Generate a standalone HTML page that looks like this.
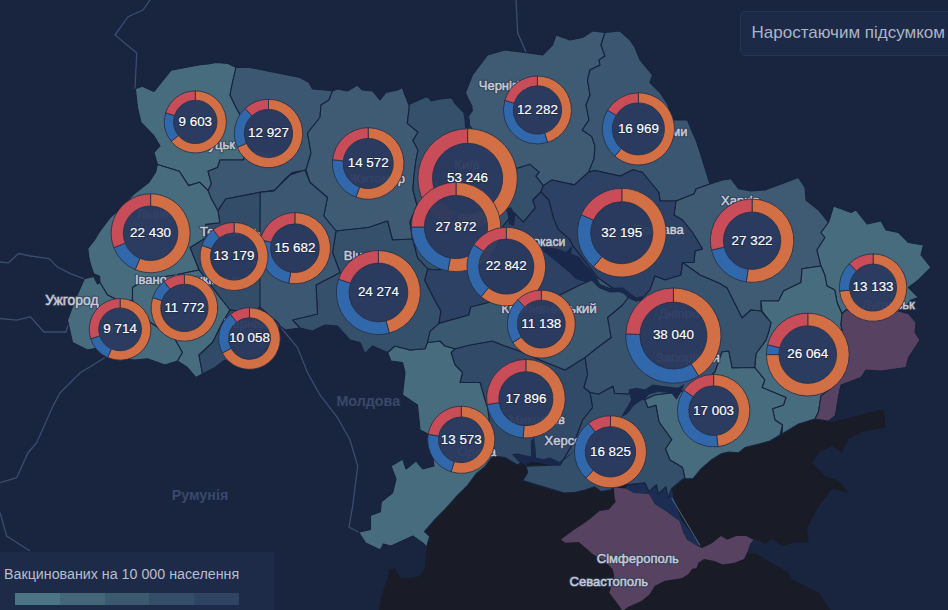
<!DOCTYPE html><html><head><meta charset="utf-8"><style>
html,body{margin:0;padding:0;background:#19253f;}body{width:948px;height:610px;overflow:hidden;position:relative;font-family:"Liberation Sans",sans-serif;}
svg{position:absolute;left:0;top:0;}
.vh{font-size:13.4px;fill:#243050;text-anchor:middle;stroke:#243050;stroke-width:2.6px;stroke-linejoin:round;opacity:.75}  .v{font-size:13.4px;fill:#fff;text-anchor:middle;stroke:#fff;stroke-width:.15px;}
.ch{font-size:13px;fill:#2a3651;stroke:#2a3651;stroke-width:2.4px;stroke-linejoin:round;opacity:.8}.c{font-size:13px;fill:#c6cad6;stroke:#c6cad6;stroke-width:.5px;}
.k{font-size:14.3px;font-weight:bold;fill:#3a4869;}
#btn{position:absolute;left:739.5px;top:11px;width:230px;height:45px;box-sizing:border-box;border:1px solid #27334f;border-radius:5px;background:#1c2947;color:#adb4c6;font-size:17px;line-height:42.5px;padding-left:11px;white-space:nowrap;}
#leg{position:absolute;left:0;top:552px;width:274px;height:58px;background:#1d2b49;}
#leg .t{position:absolute;left:4px;top:13.5px;font-size:14.25px;color:#b8becd;white-space:nowrap;}
#leg .b{position:absolute;left:15px;top:41px;height:12px;width:224px;display:flex;}#leg .b i{flex:1;display:block;}
</style></head><body>
<svg width="948" height="610" viewBox="0 0 948 610">
<rect width="948" height="610" fill="#19253f"/>
<polyline points="150,0 143,10 128,16.7 115,35 136.7,53 135,89" fill="none" stroke="#3b4c70" stroke-width="1.3"/>
<polyline points="0,262 8.4,262.8 18.6,253.5 30.4,256 49,258.6 57.4,267 70.9,273.8 84.4,278.8" fill="none" stroke="#3b4c70" stroke-width="1.3"/>
<polyline points="0,318.5 16.9,320.2 30.4,316.8 43.9,332 66,332 68,325" fill="none" stroke="#3b4c70" stroke-width="1.3"/>
<polyline points="105,357.5 80,373 60,393 53,406 36.7,442.7 28,452.7 16.7,477.7 0,482.7" fill="none" stroke="#3b4c70" stroke-width="1.3"/>
<polyline points="0,512.7 6.7,536 30,551" fill="none" stroke="#3b4c70" stroke-width="1.3"/>
<polyline points="280,326 285,332.5 297.5,347.5 307.5,372.5 320,395 337.5,417.5 350,440 357.7,466 352.7,506 349,527 358.7,532.3" fill="none" stroke="#3b4c70" stroke-width="1.3"/>
<polyline points="516,0 517.7,33 526,52" fill="none" stroke="#3b4c70" stroke-width="1.3"/>
<polygon points="493.8,454.8 485,466.6 476,474 467.2,485.8 456.9,496 445,509.4 434.8,519.7 424.5,531.5 429.6,536.3 426.6,547 424.6,568.7 418.7,576.6 401,578.6 395,568.7 389.2,568.7 387.2,580.5 382.3,592.4 378.4,612 832,612 818.7,592.7 792,579 788.7,572.7 770,562 755,552.7 748.7,554 747,546 755,539 765,544 772,539 782,546 795,542.7 808.7,542.7 807,529 812,519 818.7,506 832,489 848.7,492.7 838.7,481 825,476 812,462.7 818.7,452.7 832,446 842,452.7 848.7,439 865,431 885.8,427.8 884.6,418.6 883.5,409.4 876.6,410.5 846.7,418.6 830.7,422 815,419 798.7,424 782,434 700,420 600,440 520,440" fill="#191c27"/>
<polygon points="626,486 645,482.8 649,491.4 656.5,484.7 658.4,494 666,486.6 668,498 671.7,488.5 673.6,498 681,519 700,545.5 696.5,545.5 687,539.8 683,532 679.4,520.8 673.6,517 666,511 660,507.5 654.6,503.7 649,494 633.7,493 626,488.5" fill="#1b2d52"/>
<g stroke="#17233e" stroke-width="1.1" stroke-linejoin="round">
<polygon points="135.4,88.8 142.2,86.3 154,91.4 170.9,70.3 200,64.8 208,64 216,62.5 228,63.5 236,67.5 232.5,82.5 230,95 236,107.5 242,118 246,140 243.75,160 232.5,160 220,160 217.5,167.5 208,171.2 211.4,183.9 208,190.6 199.6,182.2 188.6,185.6 179.3,171.2 157.4,164.5 154,152.5 160,146 154,136 141,122.5 137.5,107.5" fill="#476c7d"/>
<polygon points="236,67.5 250,67.5 275,72.5 300,77.5 309,82.5 312.5,89 325,90 332.5,91 329,100 321,105 320,117.5 307.5,133 311,153 306,170 292.5,172.5 284,180 275,190 260,192.3 225.7,199 218,210.9 211.4,199 208,190.6 211.4,183.9 208,171.2 217.5,167.5 220,160 243.75,160 246,140 242,118 236,107.5 230,95 232.5,82.5" fill="#3b5771"/>
<polygon points="332.5,91 337.5,89 347.5,91 357.5,85 362.5,90 372.5,91 380,100 386,92.5 397.5,90 402.5,87.5 409.4,106 407.3,123.4 418,132 413,140.4 418,150 416,160 413.75,177.5 413,190 417,205 410,222 412.5,239 392.5,240 387.5,221 368.75,227.5 336,231 323.75,216 327.5,197.5 310,182.5 306,170 311,153 307.5,133 320,117.5 321,105 329,100" fill="#3e5b73"/>
<polygon points="402.5,87.5 409.4,106 407.3,123.4 418,132 413,140.4 418,150 416,160 413.75,177.5 413,190 417,205 410,222 412.5,239 417.5,257.8 427.8,269 437.5,270 460,265 480,250 500,230 513.8,212.7 523.4,222.2 535.3,207.9 532.9,200 540.9,192 543.3,185.6 536.1,176.1 539.3,172.1 529.7,164.2 517,168.2 500,160 480,140 469.6,125.5 468.5,116 463,111.6 454.7,103 451.5,97.8 440,99 431,101 429,98 426,96.7 410,104 405,95" fill="#35506b"/>
<polygon points="468.5,116 472.3,110.6 471.8,106 467.5,97.8 465.4,92.5 467.5,87.5 472.5,75 480,65 487.5,55 505,50 525,52.5 542.5,55 552.5,45 556,35 570,40 582.5,37.5 592.5,31 605,32.5 601,45 605,56 599,60 600,65 590,70 587.5,80 590,95 586,105 589,120 582.2,130 591.7,136.4 594.9,145.9 594.1,158.6 588.6,172.1 574.3,184.9 560,181.7 552,180 543.3,185.6 536.1,176.1 539.3,172.1 529.7,164.2 517,168.2 500,160 480,140 469.6,125.5" fill="#3e5b73"/>
<polygon points="605,32.5 620,31 630,40 635,47.5 640,60 652.5,75 650,82.5 660,92.5 668,105 672.5,120 687.5,120 692.5,132.5 696,140 701,155 704,165 710,184 696,189 694,194 676,201 660,201 659,192.5 642.5,172.5 633.1,169.7 620.4,176.1 594.9,170.5 588.6,172.1 594.1,158.6 594.9,145.9 591.7,136.4 582.2,130 589,120 586,105 590,95 587.5,80 590,70 600,65 599,60 605,56 601,45" fill="#3a5670"/>
<polygon points="710,184 722.5,180 731,178.75 738.5,188.75 751,191 765,190 798.5,177.5 805,187.5 806,200 818.5,210 828.5,222.5 821,232.5 825,237.5 817,250 821,266 802,268.75 801,282.5 783.5,291 778.5,301 761,301 761,311 751,310 742,318 727,288 718.7,283 700,275 682.5,262.5 694,262.5 695,251 702.5,249 692.5,232.5 682.5,220 674,215 676,201 694,194 696,189" fill="#3e5b73"/>
<polygon points="543.3,185.6 552,180 560,181.7 574.3,184.9 588.6,172.1 594.9,170.5 620.4,176.1 633.1,169.7 642.5,172.5 659,192.5 660,201 676,201 674,215 682.5,220 692.5,232.5 702.5,249 695,251 694,262.5 682.5,262.5 681,275 665,280 655,276 650,290 640,301 630,295 615,290 597.5,277.5 572.7,245.6 569.5,239.3 558.4,229.7 553.6,218.6 548.8,200 540.9,192" fill="#2c4163"/>
<polygon points="828.5,222.5 833.5,206 851,212.5 856,210 867,224 881,221 886,230 898.5,232.5 908.5,242.5 923.5,245 921,255 931,267.5 918.5,280 908.5,287.5 918.5,297.5 911,300 903.5,309 898.5,311 846,310 842,313.75 837,302.5 834.75,290 827,286 824.75,275 821,266 817,250 825,237.5 821,232.5" fill="#476c7d"/>
<polygon points="821,266 824.75,275 827,286 834.75,290 837,302.5 842,313.75 841,325 845,345 842,370 835,385 821,396 818.5,412 815,419 798.7,424 782,434 782.5,425 775,420 772.5,408.75 783.5,405 786,397.5 762,387.5 764.75,380 754.75,367.5 756,353.75 766,340 768.5,332.5 771,322.5 762,311 761,301 778.5,301 783.5,291 801,282.5 802,268.75" fill="#476c7d"/>
<polygon points="842,313.75 846,310 898.5,311 908.5,313.75 916,322.5 915,332.5 920,340 908.5,357.5 906,367.5 881,371 866,370 861,377.5 841,385 838.5,396 836,412 835,416 828.7,421 815,419 818.5,412 821,396 835,385 842,370 845,345 841,325" fill="#574361"/>
<polygon points="682.5,262.5 700,275 718.7,283 727,288 742,318 751,310 761,311 771,322.5 768.5,332.5 766,340 756,353.75 754.75,367.5 732,368 728.7,351 722,352 715,372 700,385 680,392 655,395 644.7,399.7 630,390 628.8,394.2 614.5,393.4 613,386.2 598.6,394.2 590,392.5 583.75,387.5 587.5,375 585,357.5 597.5,347.5 611,337.5 607.5,317.5 622.5,305 630,295 640,301 650,290 655,276 665,280 681,275" fill="#37536d"/>
<polygon points="644.7,399.7 655,395 680,392 700,385 715,372 722,352 728.7,351 732,368 754.75,367.5 764.75,380 762,387.5 786,397.5 783.5,405 772.5,408.75 775,420 782.5,425 780,435 770,441 760,443.8 745,447.6 738.7,452.7 728.6,452 721,453.9 710.9,460.3 700.8,469.1 693.2,478.6 685,478.75 682.5,467.5 670,460 665.4,449 671.7,439.5 659,422 655.9,405.3 648,407.7 644.7,399.7" fill="#476c7d"/>
<polygon points="590,392.5 598.6,394.2 613,386.2 614.5,393.4 628.8,394.2 630,390 644.7,399.7 648,407.7 655.9,405.3 659,422 671.7,439.5 665.4,449 670,460 682.5,467.5 685,478.75 683,479 671.7,488.5 668,498 666,486.6 658.4,494 656.5,484.7 649,491.4 645,482.8 626,484.7 613.8,487.6 610.4,490 600.8,491.5 594.5,486.8 585,490 575.4,492.3 564.3,493 548.4,488.4 532.5,483.6 523,480.4 527.7,472.5 526.1,466.1 560,465 575,440 582.5,420 592.5,407.5" fill="#344f6a"/>
<polygon points="455,348.75 470,345 492.5,341 505,346 517,350 540,360 565,370 585,357.5 587.5,375 583.75,387.5 590,392.5 592.5,407.5 582.5,420 575,440 560,465 527.5,457.5 517.5,465 505,457.5 493.75,456 487.5,407.5 485,400 480,382.5 460,382.5 462.5,372.5 455,365 451,352.5" fill="#314a68"/>
<polygon points="387.5,352.5 395,346 410,350 425,348.75 427.5,342.5 440,341 445,346 455,348.75 451,352.5 455,365 462.5,372.5 460,382.5 480,382.5 485,400 487.5,407.5 493.8,454.8 485,466.6 476,474 467.2,485.8 456.9,496 445,509.4 434.8,519.7 424.5,531.5 429.6,536.3 426.6,547 422.7,543 412.8,536 391,546 383.3,544 380.4,550 365.6,543 358.7,532.3 370.5,529.4 370.5,515.6 380.4,511.7 381.3,501.8 392.7,492.7 396,479 391,466 402.7,459 406,469 416,461 422.7,469 434,466 430,435 420,430 417.5,405 402.5,395 405,372.5 402.5,362.5 391,361" fill="#476c7d"/>
<polygon points="336,231 368.75,227.5 387.5,221 392.5,240 412.5,239 417.5,257.8 427.8,269 424.7,280.3 435,300.8 441,311 439,323.4 430,331.6 427.5,342.5 425,348.75 410,350 395,346 387.5,352.5 372.5,346 365,353.75 360,342.5 350,340 337.5,326 325,325 312.5,331 300,328 292.5,320 317.5,314 316,285 340,272.5 332.5,252.5" fill="#35506b"/>
<polygon points="260,192.3 273.75,191 290,175 305,170 310,182.5 327.5,197.5 323.75,216 336,231 332.5,252.5 340,272.5 316,285 317.5,314 292.5,320 300,328 285,330 280,326 277.5,322.5 260,307.5 259,295" fill="#3b5771"/>
<polygon points="218,210.9 225.7,199 260,192.3 260,307.5 250,312 230,310 220,297.5 199,270 196,262.5 190,247.5 206,237.5 205.5,224.4 219.8,222.7" fill="#334d69"/>
<polygon points="133.8,194 149,182.2 155.7,172 157.4,164.5 179.3,171.2 188.6,185.6 199.6,182.2 208,190.6 211.4,199 218,210.9 219.8,222.7 205.5,224.4 206,237.5 190,247.5 196,262.5 199,270 175,275 145,280 132.5,287.5 132.5,300 122.5,302.5 107.5,295 100,282.5 99.6,276.3 93.7,273.8 90.3,263.6 89,258 87.8,248.4 94.5,240 100,231 110,217.6 122,207.5" fill="#476c7d"/>
<polygon points="84.4,278.8 93.7,276.5 97.5,284 100,282.5 107.5,295 122.5,302.5 132.5,300 150,322 175,339 182.5,352.5 177.5,361 165,365 147.5,358.75 135,360 105,357.5 100,347.5 87.5,350 72.5,342.5 67.5,320 75,300" fill="#476c7d"/>
<polygon points="132.5,287.5 145,280 175,275 199,270 220,297.5 230,310 222.5,322.5 212.5,342.5 199,355 202.5,374 196,377.5 187.5,367.5 177.5,361 182.5,352.5 175,339 150,322 132.5,300" fill="#476c7d"/>
<polygon points="230,310 250,312 260,307.5 277.5,322.5 280,326 270,345 240,368 225,360 215,367.5 202.5,374 199,355 212.5,342.5 222.5,322.5" fill="#314a68"/>
<polygon points="427.8,269 437.5,270 460,265 480,250 500,230 513.8,212.7 523.4,222.2 535.3,207.9 532.9,200 540.9,192 548.8,200 553.6,218.6 558.4,229.7 569.5,239.3 572.7,245.6 597.5,277.5 580,285 560,295 520,298 495,300.8 483,304 470.8,307 468.8,315 439,323.4 441,311 435,300.8 424.7,280.3" fill="#2c4163"/>
<polygon points="439,323.4 468.8,315 470.8,307 483,304 495,300.8 520,298 560,295 580,285 597.5,277.5 615,290 630,295 622.5,305 607.5,317.5 611,337.5 597.5,347.5 585,357.5 565,370 540,360 517,350 505,346 492.5,341 470,345 455,348.75 445,346 440,341 427.5,342.5 430,331.6" fill="#3b5871"/>
</g>
<polygon points="613.8,487.6 626,488.5 633.7,493 649,494 654.6,503.7 660,507.5 666,511 673.6,517 679.4,520.8 683,532 687,539.8 696.5,545.5 702,548 711.7,543.6 721,536 727,539.8 736.4,536 746,536 753.5,539.8 749.7,544.6 747.8,551 744,558.9 734.5,562.7 723,564.6 713.6,560.8 704,558.9 698.4,562.7 696.5,568 691.9,569 688.5,574 681.8,578.2 664.9,580.8 654.8,585.8 649.7,594.3 641.3,601 627.8,607 622.7,611 619.3,606 614.3,599.3 609.2,592.6 610.9,587.5 614.3,575.7 612.6,569 605.8,562.2 592.3,553.8 585.6,547.8 578.8,542 565.3,542.8 561,539.4 573.8,530 583.9,523.4 590,519 599.5,511 609,509.4 615.7,501.8 614.7,498" fill="#574361"/>
<polygon points="628.8,389.4 636.8,387.8 644.7,389.4 652.7,384.6 665.4,386.2 678,387.8 684.5,383.8 681.3,391.8 676.5,399.7 671.7,393.4 659,391.8 649.5,394.2 644.7,399 640,401.3 633.6,406 627.2,414 620.9,417.2 625.6,409.3 631.2,399.7 629.6,394.2" fill="#19284a"/>
<polygon points="539,245.6 556.8,248.8 566,252 572.7,245.6 571,253.6 579,256.8 585.4,264.7 593.3,272.7 596.5,279 585.4,282 575.8,279 569.5,272.7 560,264.7 550.4,256.8 544,252" fill="#19284a"/>
<polygon points="592,275 597,278 600,284 610,288 622.7,287.5 630,293 636,297.5 641.7,296 643,300 635.4,301.5 628,298 622,292 610,292.5 598.8,288 592,281" fill="#19284a"/>
<polygon points="506,209 511,207 515.4,215 514,226.6 509,224 508,216" fill="#19284a"/>
<polygon points="463,111.6 468.5,116 470,121 469.6,128 465,128 464.5,120" fill="#19284a"/>
<polygon points="511.8,454 518,453.4 530.9,456.6 530.9,440.7 534,437.5 535.6,448.6 536,457.5 543.6,459 550,457.4 559.5,462 575.4,450.2 560.5,463.5 551.5,466 543.6,463.7 532.5,462 527.7,463 526.1,466.1 518.2,461.3" fill="#19284a"/>
<polyline points="671.7,498 700,545.5" stroke="#5a7a9a" stroke-width="0.8" fill="none"/>
<g>
<text class="ch" x="235" y="149" text-anchor="end">Луцьк</text><text class="c" x="235" y="149" text-anchor="end">Луцьк</text>
<text class="ch" x="268" y="161" text-anchor="middle">Рівне</text><text class="c" x="268" y="161" text-anchor="middle">Рівне</text>
<text class="ch" x="405" y="183" text-anchor="end">Житомир</text><text class="c" x="405" y="183" text-anchor="end">Житомир</text>
<text class="ch" x="467" y="169" text-anchor="middle">Київ</text><text class="c" x="467" y="169" text-anchor="middle">Київ</text>
<text class="ch" x="478.75" y="90" text-anchor="start">Чернігів</text><text class="c" x="478.75" y="90" text-anchor="start">Чернігів</text>
<text class="ch" x="687.5" y="135.5" text-anchor="end">Суми</text><text class="c" x="687.5" y="135.5" text-anchor="end">Суми</text>
<text class="ch" x="721" y="204.5" text-anchor="start">Харків</text><text class="c" x="721" y="204.5" text-anchor="start">Харків</text>
<text class="ch" x="683.75" y="233.75" text-anchor="end">Полтава</text><text class="c" x="683.75" y="233.75" text-anchor="end">Полтава</text>
<text class="ch" style="font-size:12.2px" x="565.3" y="246.3" text-anchor="end">Черкаси</text><text class="c" style="font-size:12.2px" x="565.3" y="246.3" text-anchor="end">Черкаси</text>
<text class="ch" style="font-size:13.5px" x="501.25" y="312.5" text-anchor="start">Кропивницький</text><text class="c" style="font-size:13.5px" x="501.25" y="312.5" text-anchor="start">Кропивницький</text>
<text class="ch" x="658.75" y="317.5" text-anchor="start">Дніпро</text><text class="c" x="658.75" y="317.5" text-anchor="start">Дніпро</text>
<text class="ch" x="656" y="362" text-anchor="start">Запоріжжя</text><text class="c" x="656" y="362" text-anchor="start">Запоріжжя</text>
<text class="ch" x="565" y="423.75" text-anchor="end">Миколаїв</text><text class="c" x="565" y="423.75" text-anchor="end">Миколаїв</text>
<text class="ch" x="544.5" y="445" text-anchor="start">Херсон</text><text class="c" x="544.5" y="445" text-anchor="start">Херсон</text>
<text class="ch" x="457.5" y="456" text-anchor="start">Одеса</text><text class="c" x="457.5" y="456" text-anchor="start">Одеса</text>
<text class="ch" x="343.75" y="259.5" text-anchor="start">Вінниця</text><text class="c" x="343.75" y="259.5" text-anchor="start">Вінниця</text>
<text class="ch" x="200" y="236" text-anchor="start">Тернопіль</text><text class="c" x="200" y="236" text-anchor="start">Тернопіль</text>
<text class="ch" x="153" y="218" text-anchor="middle">Львів</text><text class="c" x="153" y="218" text-anchor="middle">Львів</text>
<text class="ch" x="135" y="283.75" text-anchor="start">Івано-Франківськ</text><text class="c" x="135" y="283.75" text-anchor="start">Івано-Франківськ</text>
<text class="ch" style="font-size:13.9px" x="45.2" y="304.9" text-anchor="start">Ужгород</text><text class="c" style="font-size:13.9px" x="45.2" y="304.9" text-anchor="start">Ужгород</text>
<text class="ch" x="914.75" y="309" text-anchor="end">Луганськ</text><text class="c" x="914.75" y="309" text-anchor="end">Луганськ</text>
<text class="ch" x="249" y="328" text-anchor="middle">Чернівці</text><text class="c" x="249" y="328" text-anchor="middle">Чернівці</text>
<text class="ch" x="596.8" y="562.6" text-anchor="start">Сімферополь</text><text class="c" x="596.8" y="562.6" text-anchor="start">Сімферополь</text>
<text class="ch" x="569.6" y="586.2" text-anchor="start">Севастополь</text><text class="c" x="569.6" y="586.2" text-anchor="start">Севастополь</text>
<text class="k" x="336.4" y="405.8">Молдова</text>
<text class="k" x="171.7" y="500.3">Румунія</text>
</g>
<g stroke="#252c42" stroke-width="0.8" stroke-linejoin="round">
<circle cx="467.6" cy="178.4" r="35.1" fill="#2a3a5f" fill-opacity=".95" stroke="none"/>
<path d="M467.60 128.70A49.7 49.7 0 1 1 454.74 226.41L458.52 212.30A35.1 35.1 0 1 0 467.60 143.30Z" fill="#d36f45"/>
<path d="M454.74 226.41A49.7 49.7 0 0 1 450.60 225.10L455.60 211.38A35.1 35.1 0 0 0 458.52 212.30Z" fill="#3068ab"/>
<path d="M450.60 225.10A49.7 49.7 0 0 1 467.60 128.70L467.60 143.30A35.1 35.1 0 0 0 455.60 211.38Z" fill="#c84d58"/>
</g>
<text class="vh" x="467.6" y="182.20000000000002">53 246</text><text class="v" x="467.6" y="182.20000000000002">53 246</text>
<g stroke="#252c42" stroke-width="0.8" stroke-linejoin="round">
<circle cx="673.4" cy="335.6" r="33.5" fill="#2a3a5f" fill-opacity=".95" stroke="none"/>
<path d="M673.40 288.00A47.6 47.6 0 0 1 698.62 375.97L691.15 364.01A33.5 33.5 0 0 0 673.40 302.10Z" fill="#d36f45"/>
<path d="M698.62 375.97A47.6 47.6 0 0 1 625.83 333.94L639.92 334.43A33.5 33.5 0 0 0 691.15 364.01Z" fill="#3068ab"/>
<path d="M625.83 333.94A47.6 47.6 0 0 1 673.40 288.00L673.40 302.10A33.5 33.5 0 0 0 639.92 334.43Z" fill="#c84d58"/>
</g>
<text class="vh" x="673.4" y="339.40000000000003">38 040</text><text class="v" x="673.4" y="339.40000000000003">38 040</text>
<g stroke="#252c42" stroke-width="0.8" stroke-linejoin="round">
<circle cx="621.8" cy="232.7" r="31.0" fill="#2a3a5f" fill-opacity=".95" stroke="none"/>
<path d="M621.80 188.35A44.35 44.35 0 1 1 593.47 266.82L602.00 256.55A31.0 31.0 0 1 0 621.80 201.70Z" fill="#d36f45"/>
<path d="M593.47 266.82A44.35 44.35 0 0 1 581.28 214.66L593.48 220.09A31.0 31.0 0 0 0 602.00 256.55Z" fill="#3068ab"/>
<path d="M581.28 214.66A44.35 44.35 0 0 1 621.80 188.35L621.80 201.70A31.0 31.0 0 0 0 593.48 220.09Z" fill="#c84d58"/>
</g>
<text class="vh" x="621.8" y="236.5">32 195</text><text class="v" x="621.8" y="236.5">32 195</text>
<g stroke="#252c42" stroke-width="0.8" stroke-linejoin="round">
<circle cx="456" cy="227" r="31.6" fill="#2a3a5f" fill-opacity=".95" stroke="none"/>
<path d="M456.00 182.25A44.75 44.75 0 1 1 447.84 271.00L450.24 258.07A31.6 31.6 0 1 0 456.00 195.40Z" fill="#d36f45"/>
<path d="M447.84 271.00A44.75 44.75 0 0 1 411.25 227.00L424.40 227.00A31.6 31.6 0 0 0 450.24 258.07Z" fill="#3068ab"/>
<path d="M411.25 227.00A44.75 44.75 0 0 1 456.00 182.25L456.00 195.40A31.6 31.6 0 0 0 424.40 227.00Z" fill="#c84d58"/>
</g>
<text class="vh" x="456" y="230.8">27 872</text><text class="v" x="456" y="230.8">27 872</text>
<g stroke="#252c42" stroke-width="0.8" stroke-linejoin="round">
<circle cx="752.1" cy="240.7" r="28.700000000000003" fill="#2a3a5f" fill-opacity=".95" stroke="none"/>
<path d="M752.10 199.00A41.7 41.7 0 1 1 746.30 281.99L748.11 269.12A28.700000000000003 28.700000000000003 0 1 0 752.10 212.00Z" fill="#d36f45"/>
<path d="M746.30 281.99A41.7 41.7 0 0 1 711.47 250.08L724.14 247.16A28.700000000000003 28.700000000000003 0 0 0 748.11 269.12Z" fill="#3068ab"/>
<path d="M711.47 250.08A41.7 41.7 0 0 1 752.10 199.00L752.10 212.00A28.700000000000003 28.700000000000003 0 0 0 724.14 247.16Z" fill="#c84d58"/>
</g>
<text class="vh" x="752.1" y="244.5">27 322</text><text class="v" x="752.1" y="244.5">27 322</text>
<g stroke="#252c42" stroke-width="0.8" stroke-linejoin="round">
<circle cx="807.8" cy="354.6" r="28.8" fill="#2a3a5f" fill-opacity=".95" stroke="none"/>
<path d="M807.80 313.20A41.4 41.4 0 1 1 766.40 354.60L779.00 354.60A28.8 28.8 0 1 0 807.80 325.80Z" fill="#d36f45"/>
<path d="M766.40 354.60A41.4 41.4 0 0 1 767.60 344.72L779.83 347.73A28.8 28.8 0 0 0 779.00 354.60Z" fill="#3068ab"/>
<path d="M767.60 344.72A41.4 41.4 0 0 1 807.80 313.20L807.80 325.80A28.8 28.8 0 0 0 779.83 347.73Z" fill="#c84d58"/>
</g>
<text class="vh" x="807.8" y="358.40000000000003">26 064</text><text class="v" x="807.8" y="358.40000000000003">26 064</text>
<g stroke="#252c42" stroke-width="0.8" stroke-linejoin="round">
<circle cx="378.4" cy="292.5" r="29.400000000000002" fill="#2a3a5f" fill-opacity=".95" stroke="none"/>
<path d="M378.40 250.50A42.0 42.0 0 0 1 389.27 333.07L386.01 320.90A29.400000000000002 29.400000000000002 0 0 0 378.40 263.10Z" fill="#d36f45"/>
<path d="M389.27 333.07A42.0 42.0 0 0 1 338.57 279.17L350.52 283.17A29.400000000000002 29.400000000000002 0 0 0 386.01 320.90Z" fill="#3068ab"/>
<path d="M338.57 279.17A42.0 42.0 0 0 1 378.40 250.50L378.40 263.10A29.400000000000002 29.400000000000002 0 0 0 350.52 283.17Z" fill="#c84d58"/>
</g>
<text class="vh" x="378.4" y="296.3">24 274</text><text class="v" x="378.4" y="296.3">24 274</text>
<g stroke="#252c42" stroke-width="0.8" stroke-linejoin="round">
<circle cx="506.3" cy="266.6" r="27.5" fill="#2a3a5f" fill-opacity=".95" stroke="none"/>
<path d="M506.30 227.30A39.3 39.3 0 1 1 481.04 296.71L488.62 287.67A27.5 27.5 0 1 0 506.30 239.10Z" fill="#d36f45"/>
<path d="M481.04 296.71A39.3 39.3 0 0 1 473.72 244.62L483.50 251.22A27.5 27.5 0 0 0 488.62 287.67Z" fill="#3068ab"/>
<path d="M473.72 244.62A39.3 39.3 0 0 1 506.30 227.30L506.30 239.10A27.5 27.5 0 0 0 483.50 251.22Z" fill="#c84d58"/>
</g>
<text class="vh" x="506.3" y="270.40000000000003">22 842</text><text class="v" x="506.3" y="270.40000000000003">22 842</text>
<g stroke="#252c42" stroke-width="0.8" stroke-linejoin="round">
<circle cx="150.6" cy="233.3" r="27.25" fill="#2a3a5f" fill-opacity=".95" stroke="none"/>
<path d="M150.60 193.85A39.45 39.45 0 1 1 135.19 269.61L139.95 258.38A27.25 27.25 0 1 0 150.60 206.05Z" fill="#d36f45"/>
<path d="M135.19 269.61A39.45 39.45 0 0 1 113.84 247.63L125.21 243.20A27.25 27.25 0 0 0 139.95 258.38Z" fill="#3068ab"/>
<path d="M113.84 247.63A39.45 39.45 0 0 1 150.60 193.85L150.60 206.05A27.25 27.25 0 0 0 125.21 243.20Z" fill="#c84d58"/>
</g>
<text class="vh" x="150.6" y="237.10000000000002">22 430</text><text class="v" x="150.6" y="237.10000000000002">22 430</text>
<g stroke="#252c42" stroke-width="0.8" stroke-linejoin="round">
<circle cx="525.9" cy="398.7" r="27.0" fill="#2a3a5f" fill-opacity=".95" stroke="none"/>
<path d="M525.90 359.40A39.3 39.3 0 1 1 523.16 437.90L524.02 425.63A27.0 27.0 0 1 0 525.90 371.70Z" fill="#d36f45"/>
<path d="M523.16 437.90A39.3 39.3 0 0 1 487.03 404.51L499.20 402.69A27.0 27.0 0 0 0 524.02 425.63Z" fill="#3068ab"/>
<path d="M487.03 404.51A39.3 39.3 0 0 1 525.90 359.40L525.90 371.70A27.0 27.0 0 0 0 499.20 402.69Z" fill="#c84d58"/>
</g>
<text class="vh" x="525.9" y="402.5">17 896</text><text class="v" x="525.9" y="402.5">17 896</text>
<g stroke="#252c42" stroke-width="0.8" stroke-linejoin="round">
<circle cx="713.6" cy="410.7" r="24.85" fill="#2a3a5f" fill-opacity=".95" stroke="none"/>
<path d="M713.60 374.40A36.3 36.3 0 0 1 718.02 446.73L716.63 435.36A24.85 24.85 0 0 0 713.60 385.85Z" fill="#d36f45"/>
<path d="M718.02 446.73A36.3 36.3 0 0 1 683.68 390.14L693.12 396.62A24.85 24.85 0 0 0 716.63 435.36Z" fill="#3068ab"/>
<path d="M683.68 390.14A36.3 36.3 0 0 1 713.60 374.40L713.60 385.85A24.85 24.85 0 0 0 693.12 396.62Z" fill="#c84d58"/>
</g>
<text class="vh" x="713.6" y="414.5">17 003</text><text class="v" x="713.6" y="414.5">17 003</text>
<g stroke="#252c42" stroke-width="0.8" stroke-linejoin="round">
<circle cx="638.4" cy="128.9" r="26.0" fill="#2a3a5f" fill-opacity=".95" stroke="none"/>
<path d="M638.40 92.85A36.05 36.05 0 1 1 614.75 156.11L621.34 148.52A26.0 26.0 0 1 0 638.40 102.90Z" fill="#d36f45"/>
<path d="M614.75 156.11A36.05 36.05 0 0 1 607.60 110.17L616.18 115.39A26.0 26.0 0 0 0 621.34 148.52Z" fill="#3068ab"/>
<path d="M607.60 110.17A36.05 36.05 0 0 1 638.40 92.85L638.40 102.90A26.0 26.0 0 0 0 616.18 115.39Z" fill="#c84d58"/>
</g>
<text class="vh" x="638.4" y="132.70000000000002">16 969</text><text class="v" x="638.4" y="132.70000000000002">16 969</text>
<g stroke="#252c42" stroke-width="0.8" stroke-linejoin="round">
<circle cx="610.45" cy="451.8" r="25.150000000000002" fill="#2a3a5f" fill-opacity=".95" stroke="none"/>
<path d="M610.45 415.80A36.0 36.0 0 1 1 585.90 478.13L593.30 470.19A25.150000000000002 25.150000000000002 0 1 0 610.45 426.65Z" fill="#d36f45"/>
<path d="M585.90 478.13A36.0 36.0 0 0 1 588.53 423.24L595.14 431.85A25.150000000000002 25.150000000000002 0 0 0 593.30 470.19Z" fill="#3068ab"/>
<path d="M588.53 423.24A36.0 36.0 0 0 1 610.45 415.80L610.45 426.65A25.150000000000002 25.150000000000002 0 0 0 595.14 431.85Z" fill="#c84d58"/>
</g>
<text class="vh" x="610.45" y="455.6">16 825</text><text class="v" x="610.45" y="455.6">16 825</text>
<g stroke="#252c42" stroke-width="0.8" stroke-linejoin="round">
<circle cx="294.9" cy="248.2" r="24.35" fill="#2a3a5f" fill-opacity=".95" stroke="none"/>
<path d="M294.90 212.60A35.6 35.6 0 1 1 288.72 283.26L290.67 272.18A24.35 24.35 0 1 0 294.90 223.85Z" fill="#d36f45"/>
<path d="M288.72 283.26A35.6 35.6 0 0 1 260.36 239.59L271.27 242.31A24.35 24.35 0 0 0 290.67 272.18Z" fill="#3068ab"/>
<path d="M260.36 239.59A35.6 35.6 0 0 1 294.90 212.60L294.90 223.85A24.35 24.35 0 0 0 271.27 242.31Z" fill="#c84d58"/>
</g>
<text class="vh" x="294.9" y="252.0">15 682</text><text class="v" x="294.9" y="252.0">15 682</text>
<g stroke="#252c42" stroke-width="0.8" stroke-linejoin="round">
<circle cx="368.2" cy="163.5" r="25.1" fill="#2a3a5f" fill-opacity=".95" stroke="none"/>
<path d="M368.20 127.70A35.8 35.8 0 1 1 355.96 197.14L359.62 187.09A25.1 25.1 0 1 0 368.20 138.40Z" fill="#d36f45"/>
<path d="M355.96 197.14A35.8 35.8 0 0 1 332.60 159.76L343.24 160.88A25.1 25.1 0 0 0 359.62 187.09Z" fill="#3068ab"/>
<path d="M332.60 159.76A35.8 35.8 0 0 1 368.20 127.70L368.20 138.40A25.1 25.1 0 0 0 343.24 160.88Z" fill="#c84d58"/>
</g>
<text class="vh" x="368.2" y="167.3">14 572</text><text class="v" x="368.2" y="167.3">14 572</text>
<g stroke="#252c42" stroke-width="0.8" stroke-linejoin="round">
<circle cx="461.3" cy="439.8" r="22.900000000000002" fill="#2a3a5f" fill-opacity=".95" stroke="none"/>
<path d="M461.30 406.20A33.6 33.6 0 1 1 451.03 471.79L454.30 461.60A22.900000000000002 22.900000000000002 0 1 0 461.30 416.90Z" fill="#d36f45"/>
<path d="M451.03 471.79A33.6 33.6 0 0 1 428.15 434.31L438.71 436.06A22.900000000000002 22.900000000000002 0 0 0 454.30 461.60Z" fill="#3068ab"/>
<path d="M428.15 434.31A33.6 33.6 0 0 1 461.30 406.20L461.30 416.90A22.900000000000002 22.900000000000002 0 0 0 438.71 436.06Z" fill="#c84d58"/>
</g>
<text class="vh" x="461.3" y="443.6">13 573</text><text class="v" x="461.3" y="443.6">13 573</text>
<g stroke="#252c42" stroke-width="0.8" stroke-linejoin="round">
<circle cx="234.05" cy="256.5" r="23.6" fill="#2a3a5f" fill-opacity=".95" stroke="none"/>
<path d="M234.05 222.50A34 34 0 1 1 201.90 245.43L211.74 248.82A23.6 23.6 0 1 0 234.05 232.90Z" fill="#d36f45"/>
<path d="M201.90 245.43A34 34 0 0 1 213.12 229.71L219.52 237.90A23.6 23.6 0 0 0 211.74 248.82Z" fill="#3068ab"/>
<path d="M213.12 229.71A34 34 0 0 1 234.05 222.50L234.05 232.90A23.6 23.6 0 0 0 219.52 237.90Z" fill="#c84d58"/>
</g>
<text class="vh" x="234.05" y="260.3">13 179</text><text class="v" x="234.05" y="260.3">13 179</text>
<g stroke="#252c42" stroke-width="0.8" stroke-linejoin="round">
<circle cx="873.1" cy="287.6" r="23.5" fill="#2a3a5f" fill-opacity=".95" stroke="none"/>
<path d="M873.10 253.90A33.7 33.7 0 1 1 839.58 291.12L849.73 290.06A23.5 23.5 0 1 0 873.10 264.10Z" fill="#d36f45"/>
<path d="M839.58 291.12A33.7 33.7 0 0 1 849.27 263.77L856.48 270.98A23.5 23.5 0 0 0 849.73 290.06Z" fill="#3068ab"/>
<path d="M849.27 263.77A33.7 33.7 0 0 1 873.10 253.90L873.10 264.10A23.5 23.5 0 0 0 856.48 270.98Z" fill="#c84d58"/>
</g>
<text class="vh" x="873.1" y="291.40000000000003">13 133</text><text class="v" x="873.1" y="291.40000000000003">13 133</text>
<g stroke="#252c42" stroke-width="0.8" stroke-linejoin="round">
<circle cx="268.5" cy="133.5" r="24.1" fill="#2a3a5f" fill-opacity=".95" stroke="none"/>
<path d="M268.50 99.30A34.2 34.2 0 1 1 237.26 147.41L246.48 143.30A24.1 24.1 0 1 0 268.50 109.40Z" fill="#d36f45"/>
<path d="M237.26 147.41A34.2 34.2 0 0 1 245.18 108.49L252.06 115.87A24.1 24.1 0 0 0 246.48 143.30Z" fill="#3068ab"/>
<path d="M245.18 108.49A34.2 34.2 0 0 1 268.50 99.30L268.50 109.40A24.1 24.1 0 0 0 252.06 115.87Z" fill="#c84d58"/>
</g>
<text class="vh" x="268.5" y="137.3">12 927</text><text class="v" x="268.5" y="137.3">12 927</text>
<g stroke="#252c42" stroke-width="0.8" stroke-linejoin="round">
<circle cx="537.4" cy="110.0" r="24.200000000000003" fill="#2a3a5f" fill-opacity=".95" stroke="none"/>
<path d="M537.40 76.00A34.0 34.0 0 0 1 547.62 142.43L544.68 133.08A24.200000000000003 24.200000000000003 0 0 0 537.40 85.80Z" fill="#d36f45"/>
<path d="M547.62 142.43A34.0 34.0 0 0 1 504.80 100.34L514.20 103.13A24.200000000000003 24.200000000000003 0 0 0 544.68 133.08Z" fill="#3068ab"/>
<path d="M504.80 100.34A34.0 34.0 0 0 1 537.40 76.00L537.40 85.80A24.200000000000003 24.200000000000003 0 0 0 514.20 103.13Z" fill="#c84d58"/>
</g>
<text class="vh" x="537.4" y="113.8">12 282</text><text class="v" x="537.4" y="113.8">12 282</text>
<g stroke="#252c42" stroke-width="0.8" stroke-linejoin="round">
<circle cx="184.4" cy="307.9" r="23.700000000000003" fill="#2a3a5f" fill-opacity=".95" stroke="none"/>
<path d="M184.40 274.60A33.3 33.3 0 1 1 152.73 297.61L161.86 300.58A23.700000000000003 23.700000000000003 0 1 0 184.40 284.20Z" fill="#d36f45"/>
<path d="M152.73 297.61A33.3 33.3 0 0 1 164.13 281.48L169.97 289.10A23.700000000000003 23.700000000000003 0 0 0 161.86 300.58Z" fill="#3068ab"/>
<path d="M164.13 281.48A33.3 33.3 0 0 1 184.40 274.60L184.40 284.20A23.700000000000003 23.700000000000003 0 0 0 169.97 289.10Z" fill="#c84d58"/>
</g>
<text class="vh" x="184.4" y="311.7">11 772</text><text class="v" x="184.4" y="311.7">11 772</text>
<g stroke="#252c42" stroke-width="0.8" stroke-linejoin="round">
<circle cx="541.3" cy="324.1" r="23.900000000000002" fill="#2a3a5f" fill-opacity=".95" stroke="none"/>
<path d="M541.30 290.15A33.95 33.95 0 1 1 512.83 342.59L521.26 337.12A23.900000000000002 23.900000000000002 0 1 0 541.30 300.20Z" fill="#d36f45"/>
<path d="M512.83 342.59A33.95 33.95 0 0 1 517.72 299.68L524.70 306.91A23.900000000000002 23.900000000000002 0 0 0 521.26 337.12Z" fill="#3068ab"/>
<path d="M517.72 299.68A33.95 33.95 0 0 1 541.30 290.15L541.30 300.20A23.900000000000002 23.900000000000002 0 0 0 524.70 306.91Z" fill="#c84d58"/>
</g>
<text class="vh" x="541.3" y="327.90000000000003">11 138</text><text class="v" x="541.3" y="327.90000000000003">11 138</text>
<g stroke="#252c42" stroke-width="0.8" stroke-linejoin="round">
<circle cx="249.45" cy="338.55" r="20.85" fill="#2a3a5f" fill-opacity=".95" stroke="none"/>
<path d="M249.45 307.75A30.8 30.8 0 1 1 222.26 353.01L231.04 348.34A20.85 20.85 0 1 0 249.45 317.70Z" fill="#d36f45"/>
<path d="M222.26 353.01A30.8 30.8 0 0 1 230.49 314.28L236.61 322.12A20.85 20.85 0 0 0 231.04 348.34Z" fill="#3068ab"/>
<path d="M230.49 314.28A30.8 30.8 0 0 1 249.45 307.75L249.45 317.70A20.85 20.85 0 0 0 236.61 322.12Z" fill="#c84d58"/>
</g>
<text class="vh" x="249.45" y="342.35">10 058</text><text class="v" x="249.45" y="342.35">10 058</text>
<g stroke="#252c42" stroke-width="0.8" stroke-linejoin="round">
<circle cx="120.1" cy="329.35" r="21.400000000000002" fill="#2a3a5f" fill-opacity=".95" stroke="none"/>
<path d="M120.10 298.55A30.8 30.8 0 1 1 107.57 357.49L111.40 348.90A21.400000000000002 21.400000000000002 0 1 0 120.10 307.95Z" fill="#d36f45"/>
<path d="M107.57 357.49A30.8 30.8 0 0 1 90.77 338.77L99.72 335.89A21.400000000000002 21.400000000000002 0 0 0 111.40 348.90Z" fill="#3068ab"/>
<path d="M90.77 338.77A30.8 30.8 0 0 1 120.10 298.55L120.10 307.95A21.400000000000002 21.400000000000002 0 0 0 99.72 335.89Z" fill="#c84d58"/>
</g>
<text class="vh" x="120.1" y="333.15000000000003">9 714</text><text class="v" x="120.1" y="333.15000000000003">9 714</text>
<g stroke="#252c42" stroke-width="0.8" stroke-linejoin="round">
<circle cx="195.3" cy="121.9" r="21.700000000000003" fill="#2a3a5f" fill-opacity=".95" stroke="none"/>
<path d="M195.30 90.90A31.0 31.0 0 1 1 171.21 141.41L178.44 135.56A21.700000000000003 21.700000000000003 0 1 0 195.30 100.20Z" fill="#d36f45"/>
<path d="M171.21 141.41A31.0 31.0 0 0 1 165.65 112.84L174.55 115.56A21.700000000000003 21.700000000000003 0 0 0 178.44 135.56Z" fill="#3068ab"/>
<path d="M165.65 112.84A31.0 31.0 0 0 1 195.30 90.90L195.30 100.20A21.700000000000003 21.700000000000003 0 0 0 174.55 115.56Z" fill="#c84d58"/>
</g>
<text class="vh" x="195.3" y="125.7">9 603</text><text class="v" x="195.3" y="125.7">9 603</text>
</svg>
<div id="btn">Наростаючим підсумком</div>
<div id="leg"><div class="t">Вакцинованих на 10 000 населення</div><div class="b"><i style="background:#4b7484"></i><i style="background:#436779"></i><i style="background:#3b5a70"></i><i style="background:#344d68"></i><i style="background:#2f4463"></i></div></div>
</body></html>
